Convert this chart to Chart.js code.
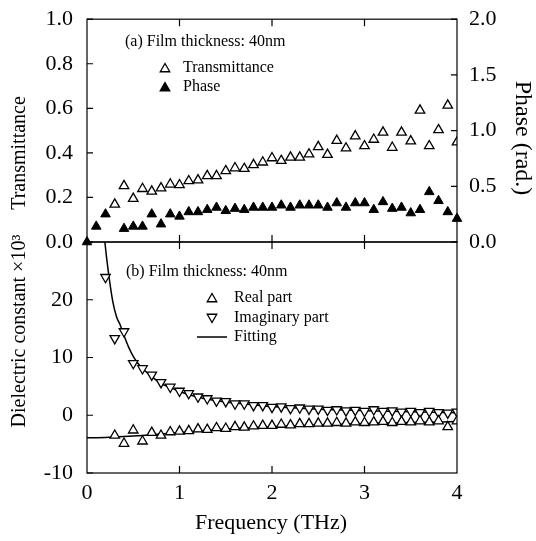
<!DOCTYPE html>
<html>
<head>
<meta charset="utf-8">
<script src="https://cdn.jsdelivr.net/npm/chart.js@4.4.0/dist/chart.umd.min.js"></script>
<style>
html,body{margin:0;padding:0;background:#fff;}
#wrap{position:relative;width:536px;height:541px;}
#wrap canvas{position:absolute;left:0;top:0;}
</style>
</head>
<body>
<div id="wrap">
<canvas id="chartTop" width="536" height="541"></canvas>
<canvas id="chartBottom" width="536" height="541"></canvas>
</div>
<script>

// frequency grid (THz), one value every 0.1 THz
const freq = [0.0,0.1,0.2,0.3,0.4,0.5,0.6,0.7,0.8,0.9,1.0,1.1,1.2,1.3,1.4,1.5,1.6,1.7,1.8,1.9,2.0,
    2.1,2.2,2.3,2.4,2.5,2.6,2.7,2.8,2.9,3.0,3.1,3.2,3.3,3.4,3.5,3.6,3.7,3.8,3.9,4.0]

// (a) transmittance and phase
const transmittance = [null,null,null,0.169,0.252,0.195,0.239,0.227,0.242,0.259,0.256,0.274,0.278,0.297,0.297,
    0.319,0.332,0.329,0.346,0.358,0.377,0.365,0.380,0.380,0.394,0.427,0.392,0.455,0.421,0.475,0.431,
    0.460,0.492,0.424,0.492,0.453,0.591,0.431,0.503,0.613,0.448]

const phase = [0,0.14,0.25,null,0.12,0.14,0.14,0.25,0.16,0.25,0.23,0.27,0.27,0.29,0.31,0.28,0.30,0.29,0.31,
    0.31,0.31,0.33,0.31,0.33,0.33,0.33,0.31,0.35,0.31,0.35,0.35,0.29,0.36,0.30,0.31,0.26,0.29,0.45,0.37,0.27,0.21]

// (b) dielectric constant x10^3
const realPart = [null,null,null,-3.5,-4.9,-2.6,-4.5,-3.0,-3.5,-2.9,-2.8,-2.7,-2.4,-2.5,-2.2,-2.3,-2.0,-2.1,
    -1.9,-1.8,-1.8,-1.6,-1.7,-1.5,-1.5,-1.4,-1.4,-1.3,-1.4,-1.2,-1.3,-1.2,-1.1,-1.3,-1.1,-1.2,-1.0,-1.2,-1.0,-2.0,-1.0]

const imagPart = [null,null,23.9,13.3,14.5,9.0,8.1,7.0,5.7,4.9,4.2,3.8,3.2,2.9,2.5,2.4,2.0,2.0,1.7,1.7,1.4,
    1.5,1.2,1.3,1.1,1.1,0.9,1.0,0.8,0.9,0.7,1.0,0.7,0.8,0.6,0.7,0.5,0.7,0.5,0.4,0.6]

// fitting curves
const imagFitFreq = [0.19,0.21,0.23,0.25,0.28,0.32,0.36,0.4,0.45,0.5,0.55,0.6,0.7,0.8,0.9,1.0,1.2,1.4,1.6,1.8,2.0,2.5,3.0,3.5,4.0]
const imagFit = [30.5,27.5,24.9,22.6,19.6,17.0,15.6,13.8,11.8,10.2,9.0,8.1,6.7,5.5,4.8,4.1,3.1,2.5,2.1,1.8,1.5,1.05,0.8,0.6,0.45]

const realFitFreq = [0,0.2,0.4,0.6,0.8,1.0,1.25,1.5,1.75,2.0,2.5,3.0,3.5,4.0]
const realFit = [-3.9,-3.85,-3.7,-3.5,-3.25,-3.0,-2.7,-2.4,-2.2,-2.0,-1.7,-1.45,-1.25,-1.1]

const serif = "'Liberation Serif', 'Times New Roman', serif"

const toPoints = (xs, ys)=>xs.map((x, i)=>({x:x, y:ys[i]})).filter(p=>p.y !== null)

/*=============================================
HELPERS
=============================================*/

const triangle = (ctx, x, y, r, filled, down)=>{
    let s = down ? -1 : 1
    ctx.beginPath()
    ctx.moveTo(x, y - s*r)
    ctx.lineTo(x + r*0.866, y + s*r/2)
    ctx.lineTo(x - r*0.866, y + s*r/2)
    ctx.closePath()
    ctx.fillStyle = filled ? '#000' : '#fff'
    ctx.fill()
    ctx.lineWidth = 1.3
    ctx.strokeStyle = '#000'
    ctx.stroke()
}

const text = (ctx, str, x, y, size, align, angle)=>{
    ctx.save()
    ctx.translate(x, y)
    if(angle) ctx.rotate(angle)
    ctx.font = size + 'px ' + serif
    ctx.fillStyle = '#000'
    ctx.textAlign = align || 'left'
    ctx.textBaseline = 'middle'
    ctx.fillText(str, 0, 0)
    ctx.restore()
}

// frame + inward ticks
const drawFrame = (chart, xTop, xBottom)=>{
    let ctx = chart.ctx
    let a = chart.chartArea
    let sc = chart.scales
    ctx.save()
    ctx.strokeStyle = '#000'
    ctx.lineWidth = 1.2
    ctx.strokeRect(a.left, a.top, a.right - a.left, a.bottom - a.top)
    ctx.beginPath()
    ;[1,2,3].forEach(v=>{
        let px = sc.x.getPixelForValue(v)
        if(xTop){ ctx.moveTo(px, a.top); ctx.lineTo(px, a.top + 7) }
        if(xBottom){ ctx.moveTo(px, a.bottom); ctx.lineTo(px, a.bottom - 7) }
    })
    sc.y.ticks.forEach(t=>{
        let py = sc.y.getPixelForValue(t.value)
        ctx.moveTo(a.left, py); ctx.lineTo(a.left + 6, py)
    })
    if(sc.y2){
        sc.y2.ticks.forEach(t=>{
            let py = sc.y2.getPixelForValue(t.value)
            ctx.moveTo(a.right, py); ctx.lineTo(a.right - 6, py)
        })
    }
    ctx.stroke()
    ctx.restore()
}

const tickFont = {family:serif, size:22}

/*=============================================
TOP PANEL
=============================================*/

const topPanel = {
    id:'topPanel',
    afterDraw:(chart)=>{
        let ctx = chart.ctx
        drawFrame(chart, true, true)
        text(ctx, '(a) Film thickness: 40nm', 125, 42, 16)
        triangle(ctx, 165, 69, 5.5, false, false)
        text(ctx, 'Transmittance', 183, 68, 16)
        triangle(ctx, 165, 88, 5.5, true, false)
        text(ctx, 'Phase', 183, 87, 16)
        text(ctx, 'Transmittance', 20, 153, 20, 'center', -Math.PI/2)
        text(ctx, 'Phase (rad.)', 522, 138, 24, 'center', Math.PI/2)
    }
}

new Chart(document.getElementById('chartTop'), {
    type:'scatter',
    data:{
        datasets:[{
            label:'Transmittance',
            data:toPoints(freq, transmittance),
            yAxisID:'y',
            pointStyle:'triangle',
            pointRadius:5.5,
            pointBackgroundColor:'#fff',
            pointBorderColor:'#000',
            pointBorderWidth:1.3
        },{
            label:'Phase',
            data:toPoints(freq, phase),
            yAxisID:'y2',
            pointStyle:'triangle',
            pointRadius:5.5,
            pointBackgroundColor:'#000',
            pointBorderColor:'#000',
            pointBorderWidth:1,
            clip:false
        }]
    },
    options:{
        responsive:false,
        animation:false,
        layout:{padding:{top:13, bottom:299, left:0, right:0}},
        plugins:{legend:{display:false}, tooltip:{enabled:false}},
        scales:{
            x:{type:'linear', min:0, max:4, display:false},
            y:{
                position:'left', min:0, max:1,
                ticks:{stepSize:0.2, padding:6, color:'#000', font:tickFont, callback:v=>v.toFixed(1)},
                grid:{display:false}, border:{display:false},
                afterFit:s=>{ s.width = 87 }
            },
            y2:{
                position:'right', min:0, max:2,
                ticks:{stepSize:0.5, padding:4, color:'#000', font:tickFont, callback:v=>v.toFixed(1)},
                grid:{display:false}, border:{display:false},
                afterFit:s=>{ s.width = 79 }
            }
        }
    },
    plugins:[topPanel]
})

/*=============================================
BOTTOM PANEL
=============================================*/

const bottomPanel = {
    id:'bottomPanel',
    afterDraw:(chart)=>{
        let ctx = chart.ctx
        drawFrame(chart, true, true)
        text(ctx, '(b) Film thickness: 40nm', 126, 272, 16)
        triangle(ctx, 212, 299, 5.5, false, false)
        text(ctx, 'Real part', 234, 298, 16)
        triangle(ctx, 212, 317, 5.5, false, true)
        text(ctx, 'Imaginary part', 234, 318, 16)
        ctx.save()
        ctx.beginPath()
        ctx.moveTo(197, 337); ctx.lineTo(227, 337)
        ctx.lineWidth = 1.5; ctx.strokeStyle = '#000'; ctx.stroke()
        ctx.restore()
        text(ctx, 'Fitting', 234, 337, 16)
        text(ctx, 'Dielectric constant \u00d710\u00b3', 20, 331, 20, 'center', -Math.PI/2)
        text(ctx, 'Frequency (THz)', 271, 523, 22, 'center')
    }
}

new Chart(document.getElementById('chartBottom'), {
    type:'scatter',
    data:{
        datasets:[{
            label:'Real part',
            data:toPoints(freq, realPart),
            pointStyle:'triangle',
            pointRadius:5.5,
            pointBackgroundColor:'#fff',
            pointBorderColor:'#000',
            pointBorderWidth:1.3
        },{
            label:'Imaginary part',
            data:toPoints(freq, imagPart),
            pointStyle:'triangle',
            pointRotation:180,
            pointRadius:5.5,
            pointBackgroundColor:'#fff',
            pointBorderColor:'#000',
            pointBorderWidth:1.3
        },{
            label:'Fitting',
            data:toPoints(imagFitFreq, imagFit),
            showLine:true,
            pointRadius:0,
            borderColor:'#000',
            borderWidth:1.5,
            cubicInterpolationMode:'monotone'
        },{
            label:'Fitting real',
            data:toPoints(realFitFreq, realFit),
            showLine:true,
            pointRadius:0,
            borderColor:'#000',
            borderWidth:1.5,
            cubicInterpolationMode:'monotone'
        }]
    },
    options:{
        responsive:false,
        animation:false,
        layout:{padding:{top:242, bottom:0, left:0, right:79}},
        plugins:{legend:{display:false}, tooltip:{enabled:false}},
        scales:{
            x:{
                type:'linear', position:'bottom', min:0, max:4,
                ticks:{stepSize:1, padding:-1, color:'#000', font:tickFont, maxRotation:0, callback:v=>String(v)},
                grid:{display:false}, border:{display:false},
                afterFit:s=>{ s.height = 68 }
            },
            y:{
                position:'left', min:-10, max:30,
                ticks:{stepSize:10, padding:6, color:'#000', font:tickFont, callback:v=> v === 30 ? '' : String(v)},
                grid:{display:false}, border:{display:false},
                afterFit:s=>{ s.width = 87 }
            }
        }
    },
    plugins:[bottomPanel]
})

</script>
</body>
</html>
